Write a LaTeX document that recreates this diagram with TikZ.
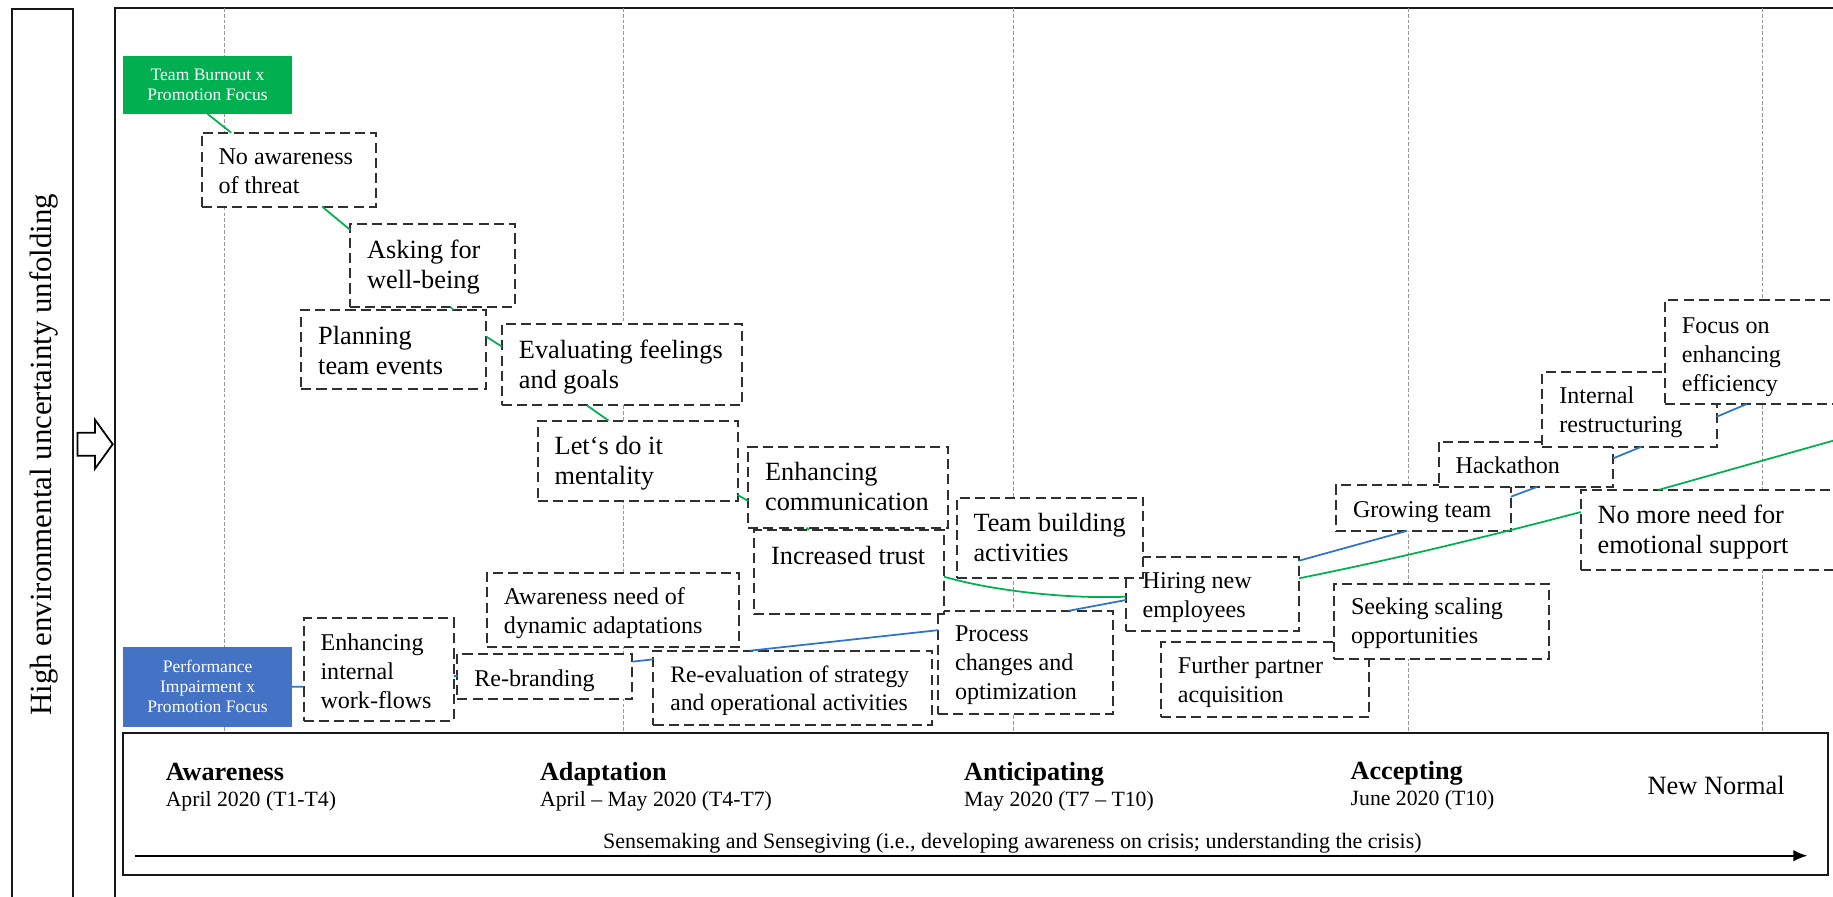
\documentclass[tikz,border=0pt]{standalone}
\usepackage{fontspec}
\setmainfont{Liberation Serif}
\usetikzlibrary{calc,arrows.meta}

\definecolor{tbgreen}{HTML}{00B050}
\definecolor{tbblue}{HTML}{4472C4}
\definecolor{lnblue}{HTML}{2E75C6}
\definecolor{dashgray}{HTML}{303030}

% font sizes used inside the stage boxes
\newcommand\fsS{\fontsize{10.3}{12.4}\selectfont}
\newcommand\fsL{\fontsize{11.25}{12.8}\selectfont}
\newcommand\fsR{\fontsize{10.1}{12.2}\selectfont}

% dashed stage box: name, left, top, right, bottom
\newcommand\stagebox[5]{%
  \node[stagefr, minimum width={(#4-#2)*0.5pt}, minimum height={(#5-#3)*0.5pt}] (#1) at (#2,#3) {};}
% text of a stage box: name, font, first-baseline offset, lines
\newcommand\stagetext[4]{%
  \node[stagetx, font=#2] (#1-txt) at ([shift={(14.5,#3)}]#1.north west)
    {\begin{tabular}[t]{@{}l@{}}#4\end{tabular}};}

\tikzset{
  frame/.style={draw=black!90, line width=0.9pt},
  guide/.style={draw=black!40, line width=0.35pt, dash pattern=on 1.6pt off 0.9pt},
  stagefr/.style={draw=dashgray, fill=white, line width=0.85pt,
    dash pattern=on 4.3pt off 2.2pt, anchor=north west, inner sep=0pt, outer sep=0pt},
  stagetx/.style={anchor=base west, inner sep=0pt, outer sep=0pt},
  catbox/.style={anchor=north west, inner sep=0pt, outer sep=0pt, text=white,
    align=center, font=\fontsize{7.5}{8.6}\selectfont},
  gline/.style={draw=tbgreen, line width=0.75pt},
  bline/.style={draw=lnblue, line width=0.75pt},
  phase/.style={anchor=base west, inner sep=0pt, font=\fontsize{11.2}{13}\selectfont\bfseries},
  when/.style={anchor=base west, inner sep=0pt, font=\fontsize{9.3}{11}\selectfont},
}

\begin{document}
\begin{tikzpicture}[x=0.5pt, y=-0.5pt]
\useasboundingbox (0,0) rectangle (1568,767);
\clip (0,0) rectangle (1568,767);

% outer frames
\draw[frame] (10,8) rectangle (62.2,820);
\draw[frame] (98.6,6.8) rectangle (1640,820);

% side caption and hollow arrow
\node[rotate=90, anchor=base, inner sep=0pt, font=\fontsize{13.2}{15}\selectfont] (side) at (44.2,389)
  {High environmental uncertainty unfolding};
\draw[line width=0.75pt, fill=white] (66.2,370.1) -- (81.3,370.1) -- (81.3,359.1) -- (96.4,380)
  -- (81.3,400.9) -- (81.3,389.8) -- (66.2,389.8) -- cycle;

% phase guide lines
\foreach \gx in {192,533,866.7,1204.7,1507.5}
  \draw[guide] (\gx,6.8) -- (\gx,627.3);

% category boxes
\node[catbox, fill=tbgreen, minimum width=144.1*0.5pt, minimum height=49.6*0.5pt] (gbox)
  at (105.5,47.9) {Team Burnout x\\Promotion Focus};
\node[catbox, fill=tbblue, minimum width=144.1*0.5pt, minimum height=68.4*0.5pt] (bbox)
  at (105.5,553.2) {Performance\\Impairment x\\Promotion Focus};

% stage boxes
\stagebox{nat}{172.5}{113.5}{321.3}{176.8}
\stagetext{nat}{\fsS}{27.5}{No awareness\\of threat}
\stagebox{ask}{299.6}{191.9}{440.6}{262.3}
\stagetext{ask}{\fsL}{29.3}{Asking for\\well-being}
\stagebox{plan}{257.7}{265.2}{416}{333}
\stagetext{plan}{\fsL}{29.3}{Planning\\team events}
\stagebox{eval}{429.4}{277.1}{634.6}{346.7}
\stagetext{eval}{\fsL}{29.3}{Evaluating feelings\\and goals}
\stagebox{lets}{460}{359.8}{631}{428.5}
\stagetext{lets}{\fsL}{29.3}{Let\textquoteleft s do it\\mentality}
\stagebox{ecom}{640}{382}{811}{451.4}
\stagetext{ecom}{\fsL}{29.3}{Enhancing\\communication}
\stagebox{proc}{802.5}{522.5}{952}{610.5}
\stagetext{proc}{\fsS}{26.5}{Process\\changes and\\optimization}
\stagebox{trust}{645.2}{453.4}{807.5}{525.2}
\stagetext{trust}{\fsL}{29.8}{Increased trust}
\stagebox{hire}{963}{476.8}{1111.3}{539.5}
\stagebox{team}{818.3}{425.6}{978}{494.3}
\stagetext{team}{\fsL}{29.3}{Team building\\activities}
\stagetext{hire}{\fsS}{26.5}{Hiring new\\employees}
\stagebox{aware}{416.6}{489.9}{631.9}{553.8}
\stagetext{aware}{\fsS}{27.5}{Awareness need of\\dynamic adaptations}
\stagebox{eiw}{259.7}{529}{388.2}{616.8}
\stagetext{eiw}{\fsS}{27.5}{Enhancing\\internal\\work-flows}
\stagebox{rebr}{391.3}{559.7}{541}{598.2}
\stagetext{rebr}{\fsS}{27.2}{Re-branding}
\stagebox{reev}{559}{556.6}{797.4}{620.2}
\stagetext{reev}{\fsR}{26.8}{Re-evaluation of strategy\\and operational activities}
\stagebox{furt}{993.1}{549.5}{1171.3}{613}
\stagetext{furt}{\fsS}{26.5}{Further partner\\acquisition}
\stagebox{seek}{1141.2}{499.4}{1324.8}{563.7}
\stagetext{seek}{\fsS}{26.5}{Seeking scaling\\opportunities}
\stagebox{grow}{1142.9}{415}{1292.4}{454.1}
\stagetext{grow}{\fsS}{27.5}{Growing team}
\stagebox{hack}{1230.7}{377.8}{1380.1}{416.5}
\stagetext{hack}{\fsS}{27.2}{Hackathon}
\stagebox{intr}{1319.4}{318}{1468.5}{382.1}
\stagetext{intr}{\fsS}{27.2}{Internal\\restructuring}
\stagebox{focus}{1424.3}{256.6}{1600}{345.6}
\stagetext{focus}{\fsS}{28.3}{Focus on\\enhancing\\efficiency}
\stagebox{nomore}{1352.2}{419.1}{1600}{487.9}
\stagetext{nomore}{\fsL}{28.8}{No more need for\\emotional support}

% team burnout path
\coordinate (gend) at (1600,368);
\draw[gline] (gbox.south) -- ($(nat.north west)!0.17!(nat.north east)$);
\draw[gline] ($(nat.south west)!0.693!(nat.south east)$) -- ($(ask.north west)!0.068!(ask.south west)$);
\draw[gline] ($(ask.south west)!0.606!(ask.south east)$) -- ($(plan.north west)!0.823!(plan.north east)$);
\draw[gline] ($(plan.north east)!0.336!(plan.south east)$) -- ($(eval.north west)!0.279!(eval.south west)$);
\draw[gline] ($(eval.south west)!0.354!(eval.south east)$) -- ($(lets.north west)!0.354!(lets.north east)$);
\draw[gline] ($(lets.north east)!0.926!(lets.south east)$) -- ($(ecom.north west)!0.67!(ecom.south west)$);
\draw[gline] ($(ecom.south west)!0.292!(ecom.south east)$) -- ($(trust.north west)!0.288!(trust.north east)$);
\draw[gline] ($(trust.north east)!0.556!(trust.south east)$) .. controls +(45,13) and +(-45,2) ..
  ($(hire.north west)!0.536!(hire.south west)$);
\draw[gline] ($(hire.north east)!0.285!(hire.south east)$) .. controls +(80,-16) and +(-80,21) ..
  ($(nomore.north west)!0.275!(nomore.south west)$);
\draw[gline] ($(nomore.north west)!0.268!(nomore.north east)$) -- (gend);

% performance impairment path
\draw[bline] (bbox.east) -- ($(eiw.north west)!0.665!(eiw.south west)$);
\draw[bline] ($(eiw.north east)!0.56!(eiw.south east)$) -- ($(rebr.north west)!0.48!(rebr.south west)$);
\draw[bline] ($(rebr.north east)!0.164!(rebr.south east)$) -- ($(reev.north west)!0.116!(reev.south west)$);
\draw[bline] ($(reev.north west)!0.347!(reev.north east)$) -- ($(proc.north west)!0.188!(proc.south west)$);
\draw[bline] ($(proc.north west)!0.746!(proc.north east)$) -- ($(hire.north west)!0.582!(hire.south west)$);
\draw[bline] ($(hire.north east)!0.045!(hire.south east)$) -- ($(grow.south west)!0.406!(grow.south east)$);
\draw[bline] ($(grow.north east)!0.253!(grow.south east)$) -- ($(hack.south west)!0.563!(hack.south east)$);
\draw[bline] ($(hack.north east)!0.367!(hack.south east)$) -- ($(intr.south west)!0.569!(intr.south east)$);
\draw[bline] ($(intr.north east)!0.6!(intr.south east)$) -- ($(focus.south west)!0.398!(focus.south east)$);

% phase band
\node[frame, anchor=north west, inner sep=0pt, outer sep=0pt,
  minimum width=1458*0.5pt, minimum height=121.2*0.5pt] (phases) at (105.5,627.3) {};
\node[phase] (p1) at (141.4,667.5) {Awareness};
\node[when] (w1) at (141.4,690) {April 2020 (T1-T4)};
\node[phase] (p2) at (461.6,667.5) {Adaptation};
\node[when] (w2) at (461.6,690) {April – May 2020 (T4-T7)};
\node[phase] (p3) at (824.4,667.5) {Anticipating};
\node[when] (w3) at (824.4,690) {May 2020 (T7 – T10)};
\node[phase] (p4) at (1155,666.5) {Accepting};
\node[when] (w4) at (1155,689) {June 2020 (T10)};
\node[anchor=base west, inner sep=0pt, font=\fontsize{11.3}{13}\selectfont] (newnormal) at (1409,679.2) {New Normal};
\coordinate (sg-start) at (115.7,732);
\coordinate (sg-end) at (1546,732);
\draw[line width=0.75pt, -{Latex[length=6pt,width=5pt]}] (sg-start) -- (sg-end);
\node[anchor=base, inner sep=0pt, font=\fontsize{9.4}{11}\selectfont] (sense) at (866,725.7)
  {Sensemaking and Sensegiving (i.e., developing awareness on crisis; understanding the crisis)};
\end{tikzpicture}
\end{document}
